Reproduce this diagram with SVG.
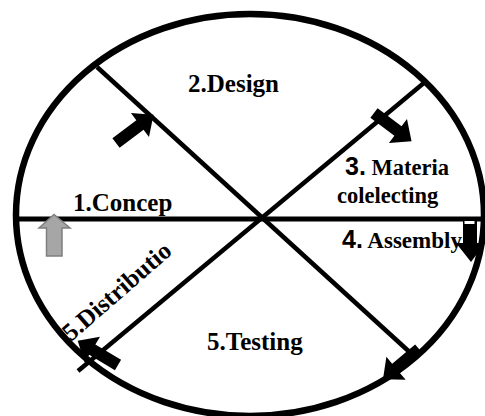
<svg xmlns="http://www.w3.org/2000/svg" xmlns:xlink="http://www.w3.org/1999/xlink" width="485" height="416" viewBox="0 0 485 416">
  <style>
    .lbl { font-family: "Liberation Serif", "Times New Roman", serif; font-weight: bold; fill: #000; }
    .num { font-family: "Liberation Sans", Arial, sans-serif; font-weight: bold; }
    .div { stroke: #000; fill: none; stroke-linecap: butt; }
    .blk { fill: #000; stroke: none; }
  </style>
  <defs>
    <path id="blk" d="M0,-6 L30,-6 L30,-15 L47,0 L30,15 L30,6 L0,6 Z"/>
  </defs>
  <rect width="485" height="416" fill="#fff"/>
  <g id="frame">
    <ellipse cx="250" cy="215" rx="234" ry="201" fill="none" stroke="#000" stroke-width="6.5"/>
    <line class="div" x1="16" y1="219" x2="485" y2="219" stroke-width="5"/>
    <line class="div" x1="97" y1="67" x2="415" y2="357" stroke-width="4.5"/>
    <line class="div" x1="425" y1="82" x2="78" y2="371" stroke-width="4.5"/>
  </g>
  <g id="node-concept">
    <text class="lbl" x="73" y="211" font-size="25">1.Concep</text>
  </g>
  <g id="node-design">
    <text class="lbl" x="188" y="92" font-size="25">2.Design</text>
  </g>
  <g id="node-material">
    <text class="lbl" x="345" y="175" font-size="22.5"><tspan class="num" font-size="25">3.</tspan> Materia</text>
    <text class="lbl" x="337" y="203" font-size="22.5">colelecting</text>
  </g>
  <g id="node-assembly">
    <text class="lbl" x="342" y="248" font-size="23"><tspan class="num" font-size="25">4.</tspan> Assembly</text>
  </g>
  <g id="node-testing">
    <text class="lbl" x="207" y="350" font-size="25">5.Testing</text>
  </g>
  <g id="node-distribution">
    <text class="lbl" x="0" y="0" font-size="25" transform="translate(71,342) rotate(-41)">5.Distributio</text>
  </g>
  <g id="connectors">
    <path d="M46.5,256 L46.5,228 L39,228 L54,214.5 L70,228 L62,228 L62,256 Z" fill="#a6a6a6" stroke="#7f7f7f" stroke-width="1.5"/>
    <use xlink:href="#blk" class="blk" transform="translate(116,143) rotate(-37)"/>
    <use xlink:href="#blk" class="blk" transform="translate(374,113) rotate(37)"/>
    <path class="blk" d="M463,219 L477,219 L477,243 L485,243 L471,262 L456,243 L463,243 Z"/>
    <rect x="464.5" y="221" width="10" height="3" fill="#fff"/>
    <use xlink:href="#blk" class="blk" transform="translate(419,349) rotate(140)"/>
    <use xlink:href="#blk" class="blk" transform="translate(118,365) rotate(211)"/>
  </g>
</svg>
